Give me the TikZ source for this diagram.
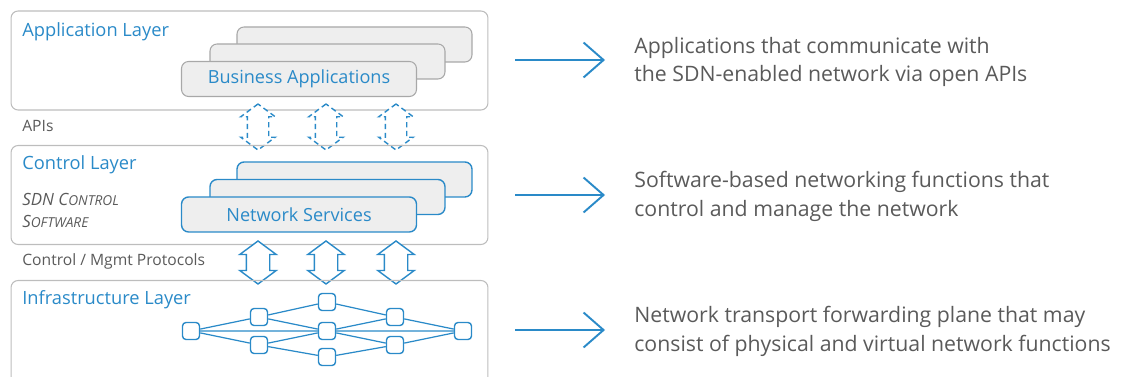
\documentclass[tikz,border=0pt]{standalone}
\usepackage{fontspec}
\setmainfont{Open Sans}
\usepackage{xcolor}
\usetikzlibrary{shapes,arrows,positioning,arrows.meta}
\definecolor{sdnblue}{HTML}{2A8AC8}
\definecolor{sdngray}{HTML}{5A5A5A}
\definecolor{layergray}{HTML}{BDBDBD}
\definecolor{cardgray}{HTML}{A8A8A8}
\definecolor{cardfill}{HTML}{EEEEEE}
\tikzstyle{layer} = [rectangle, rounded corners=4pt, draw=layergray, line width=0.6pt, minimum width=9.54cm, minimum height=1.98cm]
\tikzstyle{card} = [rectangle, rounded corners=4pt, draw=cardgray, fill=cardfill, line width=0.6pt, minimum width=4.7cm, minimum height=0.7cm]
\tikzstyle{netcard} = [card, draw=sdnblue, line width=0.8pt]
\tikzstyle{title} = [anchor=base west, inner sep=0pt, text=sdnblue, font=\fontsize{10.4}{12}\selectfont]
\tikzstyle{small} = [anchor=base west, inner sep=0pt, text=sdngray, font=\fontsize{8.9}{10}\selectfont]
\tikzstyle{desc} = [anchor=west, inner sep=0pt, align=left, text=sdngray, font=\fontsize{12.1}{16.4}\selectfont]
\tikzstyle{sw} = [rectangle, rounded corners=2pt, draw=sdnblue, fill=white, line width=0.8pt, minimum size=0.34cm, inner sep=0pt]
\tikzstyle{link} = [draw=sdnblue, line width=0.7pt]
\tikzstyle{updown} = [double arrow, rotate=90, draw=sdnblue, fill=white, line width=0.8pt, inner sep=0.22cm, minimum height=0.86cm, double arrow head extend=0.13cm, double arrow tip angle=107]
\tikzstyle{bigarrow} = [-{Straight Barb[length=0.4cm, width=0.7cm]}, draw=sdnblue, line width=1.1pt, shorten >=0.58cm]

\begin{document}
\begin{tikzpicture}[x=0.02cm, y=-0.02cm]
    \useasboundingbox (0,0) rectangle (1122,377);

    % Application layer
    \node[layer] (app) at (249.5,60.5) {};
    \node[title] (applbl) at (22,37) {Application Layer};
    \node[card] (appc3) at (354.5,44.5) {};
    \node[card] (appc2) at (327.5,61.5) {};
    \node[card, text=sdnblue, font=\fontsize{10.3}{12}\selectfont] (appc1) at (299,79) {Business Applications};
    \node[small] (apis) at (22,132) {APIs};

    % dashed arrows between application and control
    \foreach \x/\n in {258/1, 326/2, 396/3}
        \node[updown, minimum height=0.92cm, inner sep=0.2cm, dash pattern=on 3pt off 2pt] (api\n) at (\x,127) {};

    % Control layer
    \node[layer] (ctrl) at (249.5,195) {};
    \node[title] (ctrllbl) at (22,170) {Control Layer};
    \node[anchor=base west, inner sep=0pt, text=sdngray, font=\fontsize{9.6}{10}\selectfont\itshape] (sdn1) at (22,206) {SDN C{\fontsize{7.8}{8}\selectfont ONTROL}};
    \node[anchor=base west, inner sep=0pt, text=sdngray, font=\fontsize{9.6}{10}\selectfont\itshape] (sdn2) at (22,228) {S{\fontsize{7.8}{8}\selectfont OFTWARE}};
    \node[netcard] (netc3) at (354.5,179.5) {};
    \node[netcard] (netc2) at (327.5,197) {};
    \node[netcard, text=sdnblue, font=\fontsize{10.3}{12}\selectfont] (netc1) at (299,214.5) {Network Services};
    \node[small] (mgmt) at (22,266) {Control / Mgmt Protocols};

    % solid arrows between control and infrastructure
    \foreach \x/\n in {258/1, 326/2, 396/3}
        \node[updown] (prot\n) at (\x,262.5) {};

    % Infrastructure layer
    \node[layer, minimum height=2.1cm] (infra) at (249.5,333) {};
    \node[title] (infralbl) at (22,305) {Infrastructure Layer};
    \node[sw] (nl) at (191,331) {};
    \node[sw] (ntl) at (259,317) {};
    \node[sw] (nbl) at (259,345) {};
    \node[sw] (nt) at (327,302) {};
    \node[sw] (nc) at (327,331) {};
    \node[sw] (nb) at (327,357) {};
    \node[sw] (ntr) at (395,317) {};
    \node[sw] (nbr) at (395,345) {};
    \node[sw] (nr) at (463,331) {};
    \draw[link] (nl) -- (ntl) (nl) -- (nbl) (nl) -- (nc)
                (ntl) -- (nt) (ntl) -- (nc) (nbl) -- (nc) (nbl) -- (nb)
                (nt) -- (ntr) (nc) -- (ntr) (nc) -- (nbr) (nc) -- (nr)
                (nb) -- (nbr) (ntr) -- (nr) (nbr) -- (nr);

    % descriptions
    \node[desc] (d1) at (634,62) {Applications that communicate with\\the SDN-enabled network via open APIs};
    \node[desc] (d2) at (634,196.5) {Software-based networking functions that\\control and manage the network};
    \node[desc] (d3) at (634,331.5) {Network transport forwarding plane that may\\consist of physical and virtual network functions};
    \coordinate (s1) at (515,60);
    \coordinate (s2) at (515,195);
    \coordinate (s3) at (515,330);
    \draw[bigarrow] (s1) -- (d1.west |- s1);
    \draw[bigarrow] (s2) -- (d2.west |- s2);
    \draw[bigarrow] (s3) -- (d3.west |- s3);
\end{tikzpicture}
\end{document}
